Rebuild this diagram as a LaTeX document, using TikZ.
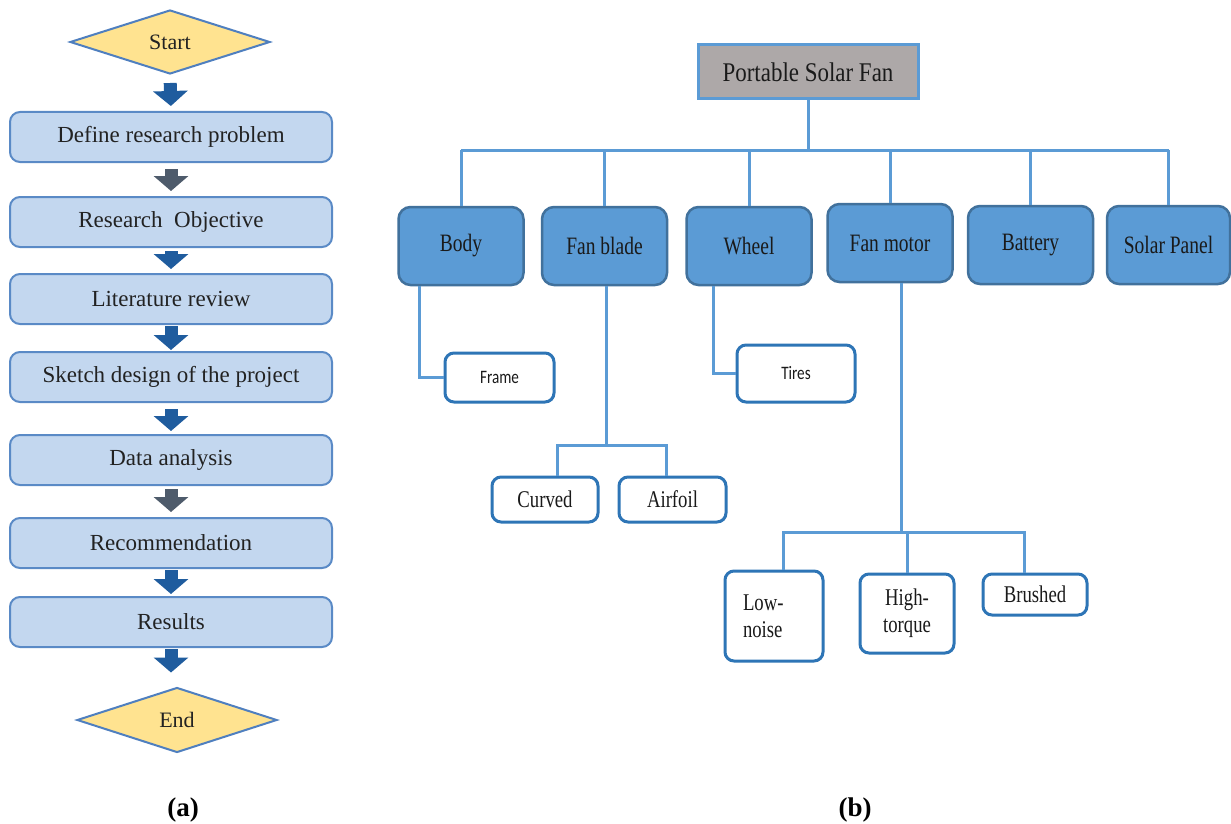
\documentclass[tikz,border=0pt]{standalone}
\usepackage{fontspec}
\setmainfont{Liberation Serif}
\newfontfamily\condserif[FakeStretch=0.78]{Liberation Serif}
\newfontfamily\rootserif[FakeStretch=0.85]{Liberation Serif}
\newfontfamily\condsans[FakeStretch=0.8]{Carlito}
\usetikzlibrary{shapes.geometric,arrows.meta}
\definecolor{ffill}{HTML}{C3D7EF}
\definecolor{fbord}{HTML}{5A8AC6}
\definecolor{ftext}{HTML}{222222}
\definecolor{dfill}{HTML}{FFE390}
\definecolor{dbord}{HTML}{4F7FBF}
\definecolor{arrblue}{HTML}{1F5C9E}
\definecolor{arrgray}{HTML}{4E5B6B}
\definecolor{lineblue}{HTML}{5B9BD5}
\definecolor{rootgray}{HTML}{ADA8A8}
\definecolor{childfill}{HTML}{5B9BD5}
\definecolor{childbord}{HTML}{41719C}
\definecolor{leafbord}{HTML}{2E75B6}
\definecolor{ttext}{HTML}{1A1A1A}
\begin{document}
\begin{tikzpicture}[x=1pt,y=-1pt,
  fbox/.style={draw=fbord, fill=ffill, line width=2pt, rounded corners=10pt,
    minimum width=322pt, minimum height=50pt, inner sep=0pt,
    font=\fontsize{23}{26}\selectfont, text=ftext},
  dia/.style={diamond, draw=dbord, fill=dfill, line width=2pt,
    minimum width=200pt, minimum height=64pt, inner sep=0pt,
    font=\fontsize{22}{24}\selectfont, text=ftext},
  bigarrow/.style={draw=arrblue, line width=13pt, -{Triangle[width=34pt,length=15pt]}},
  grayarrow/.style={bigarrow, draw=arrgray, fill=arrgray},
  tline/.style={draw=lineblue, line width=3pt},
  rootbox/.style={draw=lineblue, fill=rootgray, line width=3pt,
    minimum width=220pt, minimum height=54pt, inner sep=0pt,
    font=\rootserif\fontsize{27}{30}\selectfont, text=ttext},
  childbox/.style={draw=childbord, fill=childfill, line width=2.5pt, rounded corners=12pt,
    minimum width=125pt, minimum height=78pt, inner sep=0pt,
    font=\condserif\fontsize{25}{28}\selectfont, text=ttext},
  leafbox/.style={draw=leafbord, fill=white, line width=3pt, rounded corners=9pt,
    inner sep=0pt, font=\condserif\fontsize{24}{27}\selectfont, text=ttext},
  sleaf/.style={leafbox, font=\condsans\fontsize{19}{22}\selectfont},
  caption/.style={font=\bfseries\fontsize{27}{30}\selectfont, text=black}
]
\useasboundingbox[fill=white] (0,0) rectangle (1231,824);

% ---------- (a) flowchart ----------
\node[dia] (start) at (170,42) {Start};
\node[fbox] (b1) at (171,137) {Define research problem};
\node[fbox] (b2) at (171,222) {Research\ \ Objective};
\node[fbox] (b3) at (171,299) {Literature review};
\node[fbox] (b4) at (171,377) {Sketch design of the project};
\node[fbox] (b5) at (171,460) {Data analysis};
\node[fbox] (b6) at (171,543) {Recommendation};
\node[fbox] (b7) at (171,622) {Results};
\node[dia, minimum height=65pt] (end) at (177,720) {End};

\draw[bigarrow, shorten <=8pt, shorten >=5pt] (start.south) -- (b1.north);
\draw[grayarrow, shorten <=6pt, shorten >=5pt] (b1.south) -- (b2.north);
\draw[bigarrow, shorten <=3pt, shorten >=4pt] (b2.south) -- (b3.north);
\draw[bigarrow, shorten <=1pt, shorten >=1pt] (b3.south) -- (b4.north);
\draw[bigarrow, shorten <=6pt, shorten >=3pt] (b4.south) -- (b5.north);
\draw[grayarrow, shorten <=3pt, shorten >=5pt] (b5.south) -- (b6.north);
\draw[bigarrow, shorten <=1pt, shorten >=2pt] (b6.south) -- (b7.north);
\draw[bigarrow, shorten <=1pt, shorten >=14pt] (b7.south) -- (b7.south |- end.north);

\node[caption] (capa) at (183,810) {(a)};

% ---------- (b) tree ----------
\node[rootbox] (root) at (808,72) {Portable Solar Fan};
\node[childbox] (body) at (461,246) {Body};
\node[childbox] (blade) at (604.5,246) {Fan blade};
\node[childbox] (wheel) at (749,246) {Wheel};
\node[childbox] (motor) at (890,243) {Fan motor};
\node[childbox] (battery) at (1030.5,245) {Battery};
\node[childbox, minimum width=123pt] (solar) at (1168.5,245) {Solar Panel};

\coordinate (bus) at (808,150);
\draw[tline] (root.south) -- (bus);
\draw[tline] (body.north |- bus) -- (solar.north |- bus);
\foreach \c in {body,blade,wheel,motor,battery,solar}
  \draw[tline] (\c.north) -- (\c.north |- bus);

\node[sleaf, minimum width=109pt, minimum height=49pt] (frame) at (499.5,377.5) {Frame};
\node[sleaf, minimum width=118pt, minimum height=57pt] (tires) at (796,373.5) {Tires};
\node[leafbox, minimum width=106pt, minimum height=45pt] (curved) at (545,499.5) {Curved};
\node[leafbox, minimum width=107pt, minimum height=45pt] (airfoil) at (672.5,499.5) {Airfoil};
\node[leafbox, minimum width=98pt, minimum height=90pt, text width=62pt, align=left] (lownoise) at (774,616) {Low-\\noise};
\node[leafbox, minimum width=94pt, minimum height=79pt, align=center] (hightorque) at (907,613.5) {High-\\torque};
\node[leafbox, minimum width=104pt, minimum height=41pt] (brushed) at (1035,594.5) {Brushed};

\draw[tline] ([xshift=-42pt]body.south) |- (frame.west);
\draw[tline] ([xshift=-36pt]wheel.south) |- (tires.west);

\coordinate (fbj) at (606,445);
\draw[tline] (blade.south -| fbj) -- (fbj);
\draw[tline] ([xshift=12pt]curved.north) |- (fbj) -| ([xshift=-6pt]airfoil.north);

\coordinate (fmj) at (901,532);
\draw[tline] (motor.south -| fmj) -- (fmj);
\draw[tline] ([xshift=9pt]lownoise.north) |- (fmj) -| ([xshift=-11pt]brushed.north);
\draw[tline] (hightorque.north) -- (hightorque.north |- fmj);

\node[caption] (capb) at (855,810) {(b)};
\end{tikzpicture}
\end{document}
